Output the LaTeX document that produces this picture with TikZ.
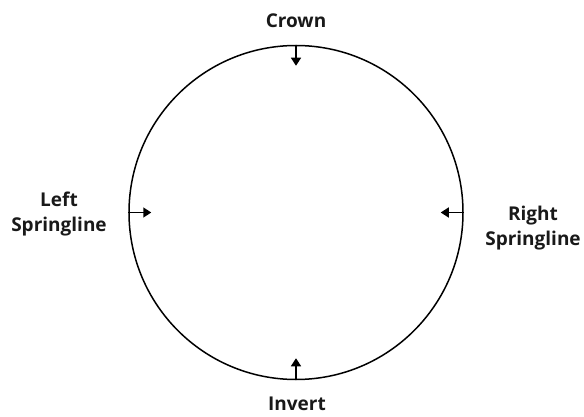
\documentclass[tikz,border=0pt]{standalone}
\usepackage{fontspec}
\setmainfont{Open Sans}
\usetikzlibrary{arrows.meta,calc}
\begin{document}
\begin{tikzpicture}[x=1pt,y=-1pt,
  lbl/.style={font=\bfseries\fontsize{19}{25}\selectfont, align=center, text=black!90},
  marker/.style={line width=1.5pt, -{Triangle[length=8pt,width=10pt]}}]
\useasboundingbox (0,0) rectangle (584,417);
\node[draw=black, line width=1.5pt, circle, minimum size=334pt, inner sep=0pt] (c) at (296,212.5) {};
\coordinate (t0) at (c.north); \coordinate (t1) at ($(c.north)+(0,21)$);
\coordinate (b0) at (c.south); \coordinate (b1) at ($(c.south)+(0,-22)$);
\coordinate (l0) at (c.west); \coordinate (l1) at ($(c.west)+(23,0)$);
\coordinate (r0) at (c.east); \coordinate (r1) at ($(c.east)+(-23,0)$);
\draw[marker] (t0) -- (t1);
\draw[marker] (b0) -- (b1);
\draw[marker] (l0) -- (l1);
\draw[marker] (r0) -- (r1);
\node[lbl] (crown) at (296,21) {Crown};
\node[lbl] (left) at (59,214) {Left\\Springline};
\node[lbl] (right) at (533,228) {Right\\Springline};
\node[lbl] (invert) at (297,404) {Invert};
\end{tikzpicture}
\end{document}
